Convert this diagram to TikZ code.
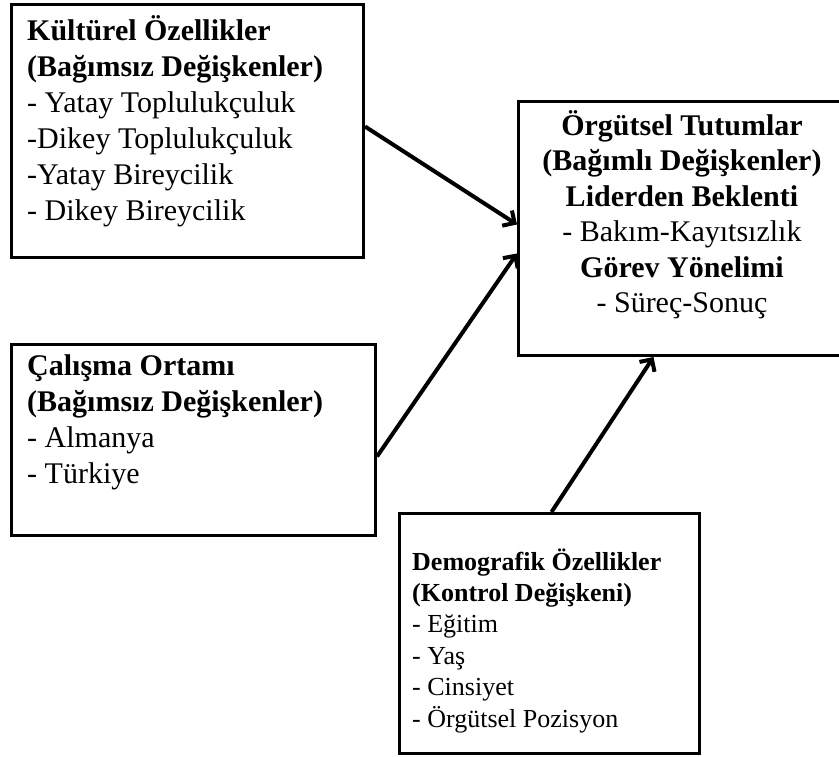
\documentclass[tikz,border=0pt]{standalone}
\usepackage{fontspec}
\setmainfont{Liberation Serif}
\usetikzlibrary{arrows.meta}
\tikzset{
  box/.style={draw=black, line width=3pt, anchor=north west, inner sep=0pt, fill=white},
  txt/.style={anchor=base west, inner sep=0pt},
  ctxt/.style={anchor=base, inner sep=0pt},
  conn/.style={line width=4pt, -{Straight Barb[length=9pt,width=18pt,line width=4pt]}}
}
\begin{document}
\begin{tikzpicture}[x=1pt,y=-1pt]
\useasboundingbox (0,0) rectangle (839,756);
\node[box, minimum width=352pt, minimum height=253pt] (k) at (10,3) {};
\node[txt] (kt) at (27,40) {\parbox[t]{330pt}{\raggedright\fontsize{30}{36}\selectfont
\textbf{Kültürel Özellikler}\\\textbf{(Bağımsız Değişkenler)}\\- Yatay Toplulukçuluk\\-Dikey Toplulukçuluk\\-Yatay Bireycilik\\- Dikey Bireycilik}};
\node[box, minimum width=364pt, minimum height=191pt] (c) at (10,343) {};
\node[txt] (ct) at (27,375) {\parbox[t]{340pt}{\raggedright\fontsize{30}{36}\selectfont
\textbf{Çalışma Ortamı}\\\textbf{(Bağımsız Değişkenler)}\\- Almanya\\- Türkiye}};
\node[box, minimum width=330pt, minimum height=254pt] (o) at (517,100) {};
\node[ctxt] (ot) at (682,135) {\parbox[t]{330pt}{\centering\fontsize{30}{35.5}\selectfont
\textbf{Örgütsel Tutumlar}\\\textbf{(Bağımlı Değişkenler)}\\\textbf{Liderden Beklenti}\\- Bakım-Kayıtsızlık\\\textbf{Görev Yönelimi}\\- Süreç-Sonuç}};
\node[box, minimum width=300pt, minimum height=240pt] (d) at (398,512) {};
\node[txt] (dt) at (412,570) {\parbox[t]{285pt}{\raggedright\fontsize{26}{31.4}\selectfont
\textbf{Demografik Özellikler}\\\textbf{(Kontrol Değişkeni)}\\- Eğitim\\- Yaş\\- Cinsiyet\\- Örgütsel Pozisyon}};
\draw[conn] ([yshift=4.5pt]k.east) -- ([yshift=4pt]o.west);
\draw[conn] ([yshift=-16.5pt]c.east) -- ([yshift=-25pt]o.west);
\draw[conn] ([xshift=2pt]d.north) -- ([xshift=-30pt]o.south);
\end{tikzpicture}
\end{document}
